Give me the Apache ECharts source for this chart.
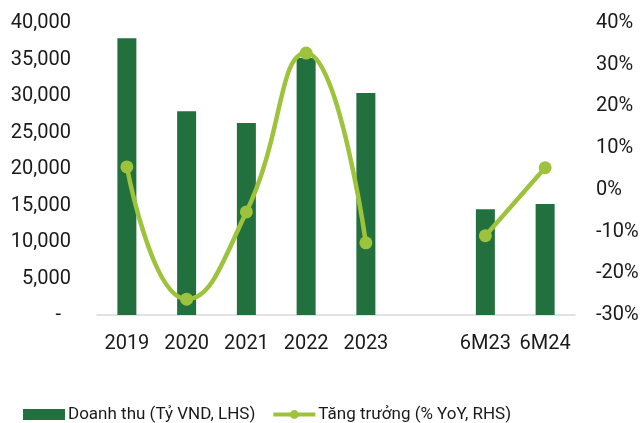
<!DOCTYPE html>
<html>
<head>
<meta charset="utf-8">
<script src="https://cdn.jsdelivr.net/npm/echarts@6/dist/echarts.min.js"></script>
<style>
  html, body { margin: 0; padding: 0; background: #fff; }
  #chart { width: 643px; height: 423px; }
</style>
</head>
<body>
<div id="chart"></div>
<script>
// Categories (blank slot separates full years from half-year periods)
const categories = ['2019', '2020', '2021', '2022', '2023', '', '6M23', '6M24'];
// Revenue, billion VND (left axis)
const revenue = [37900, 27900, 26300, 35200, 30400, null, 14500, 15200];
// Growth, % YoY (right axis)
const growth = [5.5, -26.2, -5.3, 32.8, -12.7, null, -11.0, 5.3];
// Tick label settings
const leftTicks = { min: 0, max: 40000, step: 5000 };
const rightTicks = { min: -30, max: 40, step: 10 };

const FONT = 'Roboto';
const BAR_COLOR = '#23703F';
const LINE_COLOR = '#9DC23C';

const chart = echarts.init(document.getElementById('chart'), null, { renderer: 'canvas' });

chart.setOption({
  animation: false,
  textStyle: { fontFamily: FONT },
  grid: { left: 97, right: 68, top: 23, bottom: 108, containLabel: false },
  legend: {
    left: 18,
    top: 401,
    itemWidth: 42,
    itemHeight: 11,
    itemGap: 16,
    textStyle: { fontFamily: FONT, fontSize: 17, color: '#1a1a1a', padding: [0, 0, 0, -2] },
    data: [
      { name: 'Doanh thu (Tỷ VND, LHS)', icon: 'rect' },
      { name: 'Tăng trưởng (% YoY, RHS)', lineStyle: { width: 4 } }
    ]
  },
  xAxis: {
    type: 'category',
    data: categories,
    axisLine: { show: true, lineStyle: { color: '#d9d9d9', width: 1.5 } },
    axisTick: { show: false },
    axisLabel: { fontFamily: FONT, fontSize: 20, color: '#1a1a1a', margin: 19, interval: 0 }
  },
  yAxis: [
    {
      type: 'value',
      min: leftTicks.min,
      max: leftTicks.max,
      interval: leftTicks.step,
      splitLine: { show: false },
      axisLine: { show: false },
      axisTick: { show: false },
      axisLabel: {
        fontFamily: FONT,
        fontSize: 20,
        color: '#1a1a1a',
        margin: 26,
        formatter: v => v === 0 ? '-  ' : v.toLocaleString('en-US')
      }
    },
    {
      type: 'value',
      min: rightTicks.min,
      max: rightTicks.max,
      interval: rightTicks.step,
      splitLine: { show: false },
      axisLine: { show: false },
      axisTick: { show: false },
      axisLabel: {
        fontFamily: FONT,
        fontSize: 20,
        color: '#1a1a1a',
        margin: 21,
        formatter: '{value}%'
      }
    }
  ],
  series: [
    {
      name: 'Doanh thu (Tỷ VND, LHS)',
      type: 'bar',
      yAxisIndex: 0,
      data: revenue,
      barWidth: 19,
      itemStyle: { color: BAR_COLOR }
    },
    {
      name: 'Tăng trưởng (% YoY, RHS)',
      type: 'line',
      yAxisIndex: 1,
      data: growth,
      smooth: 0.5,
      connectNulls: false,
      symbol: 'circle',
      symbolSize: 13,
      lineStyle: { color: LINE_COLOR, width: 4.5 },
      itemStyle: { color: LINE_COLOR },
      z: 5
    }
  ]
});
</script>
</body>
</html>
